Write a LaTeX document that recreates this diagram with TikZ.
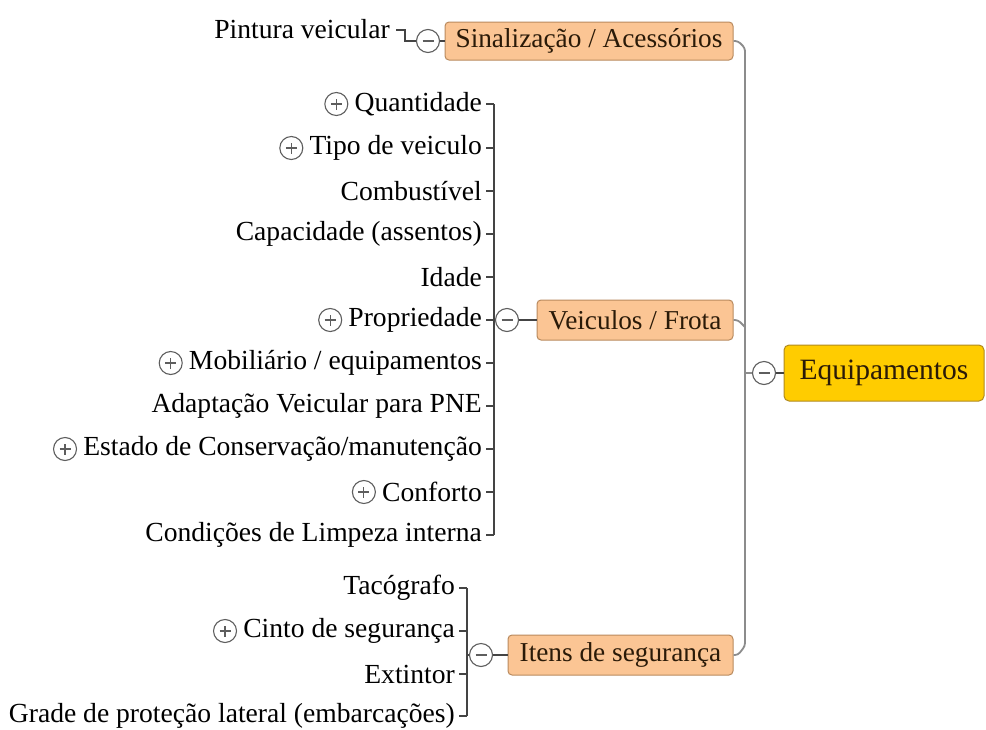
\documentclass[tikz,border=0pt]{standalone}
\usepackage{fontspec}
\setmainfont{Liberation Serif}
\begin{document}
\begin{tikzpicture}[x=1pt,y=-1pt,
  leaf/.style={font=\fontsize{27.6}{29}\selectfont, text=black, inner sep=0pt, anchor=east},
  box/.style={draw=boxborder, fill=boxfill, rounded corners=4pt, line width=1pt, font=\fontsize{27.3}{29}\selectfont, text=textbrown, inner sep=0pt},
  rootbox/.style={draw=rootborder, fill=rootfill, rounded corners=5pt, line width=1pt, font=\fontsize{29.5}{31}\selectfont, text=textbrown, inner sep=0pt},
  tog/.style={circle, draw=toggray, fill=white, minimum size=23pt, inner sep=0pt, line width=1.1pt},
  minus/.style={tog, path picture={\draw[toggray, line width=1.1pt] ([xshift=-5.5pt]path picture bounding box.center) -- ([xshift=5.5pt]path picture bounding box.center);}},
  plus/.style={tog, path picture={\draw[toggray, line width=1.1pt] ([xshift=-5.5pt]path picture bounding box.center) -- ([xshift=5.5pt]path picture bounding box.center) ([yshift=-5.5pt]path picture bounding box.center) -- ([yshift=5.5pt]path picture bounding box.center);}},
  tick/.style={draw=tickgray, line width=1.2pt},
  trunk/.style={draw=trunkgray, line width=1.8pt, rounded corners=3pt},
]
\definecolor{boxfill}{HTML}{FBC594}
\definecolor{boxborder}{HTML}{B98A5E}
\definecolor{rootfill}{HTML}{FFCC00}
\definecolor{rootborder}{HTML}{B08A20}
\definecolor{textbrown}{HTML}{2A1A08}
\definecolor{toggray}{HTML}{5E5E5E}
\definecolor{tickgray}{HTML}{444444}
\definecolor{trunkgray}{HTML}{8C8C8C}

\useasboundingbox[fill=white] (0,0) rectangle (986,729);

% root
\node[rootbox, minimum width=200pt, minimum height=56pt] (eq) at (884,373) {Equipamentos};
\node[minus] (eqm) at (764,373) {};

% main branches
\node[box, minimum width=288pt, minimum height=38pt] (sin) at (589,41) {Sinalização / Acessórios};
\node[minus] (sinm) at (428,41) {};
\node[box, minimum width=196pt, minimum height=40pt] (vei) at (635,320) {Veiculos / Frota};
\node[minus] (veim) at (507,320) {};
\node[box, minimum width=225pt, minimum height=40pt] (ite) at (620.5,655) {Itens de segurança};
\node[minus] (item) at (481,655) {};

\draw[tick] (eqm.east) -- (eq.west);
\draw[tick] (sinm.east) -- (sin.west);
\draw[tick] (veim.east) -- (vei.west);
\draw[tick] (item.east) -- (ite.west);

% trunk
\coordinate (t1) at (745,48);
\coordinate (t2) at (745,646);
\draw[trunk] (sin.east) -- (738,41) -- (t1) -- (t2) -- (738,655) -- (ite.east);
\draw[trunk] (vei.east) -- (738,320) -- (745,327);
\draw[trunk] (eqm.west) -- (745,373);

% Sinalizacao child
\node[leaf] (pin) at (390,29) {Pintura veicular};
\draw[tick] (396,30) -- (405,30) -- (405,41) -- (sinm.west);

% Veiculos children
\foreach \name/\y/\txt in {v1/104/{Quantidade}, v2/148/{Tipo de veiculo}, v3/191/{Combustível}, v4/234/{Capacidade (assentos)}, v5/277/{Idade}, v6/320/{Propriedade}, v7/363/{Mobiliário / equipamentos}, v8/406/{Adaptação Veicular para PNE}, v9/449/{Estado de Conservação/manutenção}, v10/492/{Conforto}, v11/535/{Condições de Limpeza interna}}{
  \node[leaf] (\name) at (482,\y) {\txt};
  \draw[tick] (486,\y) -- (494,\y);
}
\draw[tick] (494,104) -- (494,535);
\draw[tick] (494,320) -- (veim.west);
\foreach \name in {v1,v2,v6,v7,v9,v10}{
  \node[plus, anchor=east] (\name p) at ([xshift=-6pt]\name.west) {};
}

% Itens children
\foreach \name/\y/\txt in {i1/588/{Tacógrafo}, i2/631/{Cinto de segurança}, i3/674/{Extintor}, i4/716/{Grade de proteção lateral (embarcações)}}{
  \node[leaf] (\name) at (455,\y) {\txt};
  \draw[tick] (459,\y) -- (467,\y);
}
\draw[tick] (467,588) -- (467,716);
\draw[tick] (467,655) -- (item.west);
\node[plus, anchor=east] (i2p) at ([xshift=-6pt]i2.west) {};
\end{tikzpicture}
\end{document}
